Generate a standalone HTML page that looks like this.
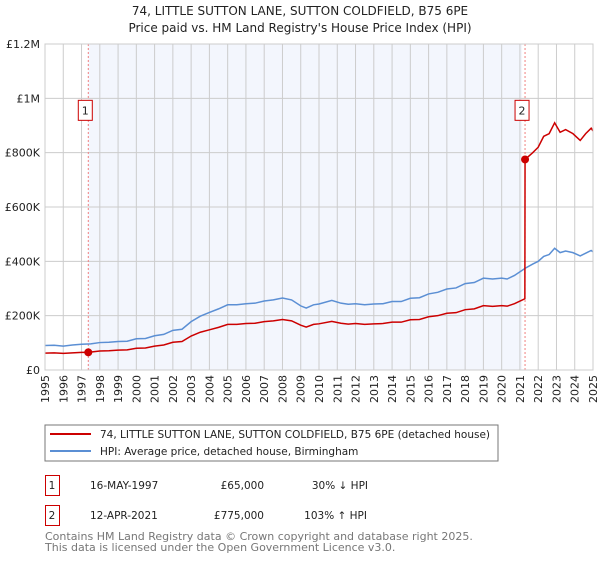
<!DOCTYPE html>
<html><head><meta charset="utf-8"><style>
body{margin:0;background:#fff;font-family:"DejaVu Sans","Liberation Sans",sans-serif;}
svg text{font-family:"DejaVu Sans","Liberation Sans",sans-serif;}
</style></head><body>
<svg id="c" width="600" height="560" viewBox="0 0 600 560" xmlns="http://www.w3.org/2000/svg">
<text x="300" y="15" text-anchor="middle" font-size="12" fill="#222">74, LITTLE SUTTON LANE, SUTTON COLDFIELD, B75 6PE</text>
<text x="300" y="32" text-anchor="middle" font-size="12" fill="#222">Price paid vs. HM Land Registry's House Price Index (HPI)</text>
<g id="plot"></g>
<rect x="45" y="425" width="453" height="36" fill="#fff" stroke="#777"/>
<line x1="50" y1="434" x2="91" y2="434" stroke="#cc0000" stroke-width="2"/>
<text x="100" y="438" font-size="10.5" fill="#222">74, LITTLE SUTTON LANE, SUTTON COLDFIELD, B75 6PE (detached house)</text>
<line x1="50" y1="451" x2="91" y2="451" stroke="#5b8fd4" stroke-width="2"/>
<text x="100" y="455" font-size="10.5" fill="#222">HPI: Average price, detached house, Birmingham</text>
<g>
<rect x="45.5" y="475.5" width="14" height="20" fill="#fff" stroke="#cc0000"/>
<text x="52" y="489" text-anchor="middle" font-size="10.5" fill="#222">1</text>
<text x="90" y="489" font-size="10.5" fill="#222">16-MAY-1997</text>
<text x="264" y="489" text-anchor="end" font-size="10.5" fill="#222">£65,000</text>
<text x="368" y="489" text-anchor="end" font-size="10.5" fill="#222">30% ↓ HPI</text>
</g>
<g>
<rect x="45.5" y="505.5" width="14" height="20" fill="#fff" stroke="#cc0000"/>
<text x="52" y="519" text-anchor="middle" font-size="10.5" fill="#222">2</text>
<text x="90" y="519" font-size="10.5" fill="#222">12-APR-2021</text>
<text x="264" y="519" text-anchor="end" font-size="10.5" fill="#222">£775,000</text>
<text x="367" y="519" text-anchor="end" font-size="10.5" fill="#222">103% ↑ HPI</text>
</g>
<text x="45" y="540" font-size="11" fill="#777">Contains HM Land Registry data © Crown copyright and database right 2025.</text>
<text x="45" y="551" font-size="11" fill="#777">This data is licensed under the Open Government Licence v3.0.</text>
</svg>
<script>
const yTicks=[0,200,400,600,800,1000,1200];
const yTickLabels=["£0","£200K","£400K","£600K","£800K","£1M","£1.2M"];
const years=[1995,1996,1997,1998,1999,2000,2001,2002,2003,2004,2005,2006,2007,2008,2009,2010,2011,2012,2013,2014,2015,2016,2017,2018,2019,2020,2021,2022,2023,2024,2025];
const saleDates=[1997.37,2021.28];
const salePrices=[65,775];
const saleLabels=["1","2"];
const hpiDates=[1995,1995.5,1996,1996.5,1997,1997.5,1998,1998.5,1999,1999.5,2000,2000.5,2001,2001.5,2002,2002.5,2003,2003.5,2004,2004.5,2005,2005.5,2006,2006.5,2007,2007.5,2008,2008.5,2009,2009.3,2009.7,2010,2010.7,2011.2,2011.6,2012,2012.5,2013,2013.5,2014,2014.5,2015,2015.5,2016,2016.5,2017,2017.5,2018,2018.5,2019,2019.5,2020,2020.3,2020.7,2021.3,2021.7,2022,2022.3,2022.6,2022.9,2023.2,2023.5,2023.9,2024.3,2024.6,2024.9,2025];
const hpiValues=[90,91,88,92,95,96,101,102,105,106,115,116,126,131,146,150,178,198,212,225,240,240,244,246,254,258,265,258,236,228,240,243,256,246,242,244,240,243,244,252,252,264,266,280,286,298,302,318,322,338,335,338,335,348,375,390,400,418,425,448,432,438,432,420,430,440,435];
const redDates=[1995,1995.5,1996,1996.5,1997,1997.37,1998,1998.5,1999,1999.5,2000,2000.5,2001,2001.5,2002,2002.5,2003,2003.5,2004,2004.5,2005,2005.5,2006,2006.5,2007,2007.5,2008,2008.5,2009,2009.3,2009.7,2010,2010.7,2011.2,2011.6,2012,2012.5,2013,2013.5,2014,2014.5,2015,2015.5,2016,2016.5,2017,2017.5,2018,2018.5,2019,2019.5,2020,2020.3,2020.7,2021.27,2021.28,2021.7,2022,2022.3,2022.6,2022.9,2023.2,2023.5,2023.9,2024.3,2024.6,2024.9,2025];
const redValues=[62,63,61,63,65,65,70,71,73,74,80,81,88,92,102,105,125,139,148,157,168,168,171,172,178,181,186,181,165,158,168,170,179,172,169,171,168,170,171,176,176,185,186,196,200,209,211,222,225,237,234,237,235,244,262,775,800,820,860,870,910,875,885,870,845,870,890,880];
const NS="http://www.w3.org/2000/svg";
const X0=45,X1=593,Y0=370,Y1=44;
const xs=d=>X0+(d-1995)/30*(X1-X0);
const ys=v=>Y0-v/1200*(Y0-Y1);
const plot=document.getElementById('plot');
function mk(tag,attrs){const e=document.createElementNS(NS,tag);for(const k in attrs)e.setAttribute(k,attrs[k]);plot.appendChild(e);return e;}
let e;
e=mk('rect',{x:xs(saleDates[0]),y:Y1,width:xs(saleDates[1])-xs(saleDates[0])-3,height:Y0-Y1,fill:'#f3f6fd'});


years.forEach(y=>{const g=mk('line',{x1:xs(y),x2:xs(y),y1:Y1,y2:Y0,stroke:'#ccc','stroke-width':1});


const t=mk('text',{x:0,y:0,'font-size':11,fill:'#222','text-anchor':'end',transform:`translate(${xs(y)+4},${Y0+5}) rotate(-90)`});t.textContent=y;

});
yTicks.forEach((v,i)=>{const g=mk('line',{x1:X0,x2:X1,y1:ys(v),y2:ys(v),stroke:'#ccc','stroke-width':1});


const t=mk('text',{x:40,y:ys(v)+4,'font-size':11,fill:'#222','text-anchor':'end'});t.textContent=yTickLabels[i];

});
saleDates.forEach((d,i)=>{const l=mk('line',{x1:xs(d),x2:xs(d),y1:Y1,y2:Y0,stroke:'#f08080','stroke-dasharray':'2,2'});


const r=mk('rect',{x:xs(d)-10,y:ys(1000)+2,width:14,height:20,fill:'#fff',stroke:'#cc0000'});


const t=mk('text',{x:xs(d)-3,y:ys(1000)+16,'font-size':11,fill:'#222','text-anchor':'middle'});t.textContent=saleLabels[i];

});
e=mk('polyline',{points:hpiDates.map((d,i)=>xs(d)+','+ys(hpiValues[i])).join(' '),fill:'none',stroke:'#5b8fd4','stroke-width':1.5});


e=mk('polyline',{points:redDates.map((d,i)=>xs(d)+','+ys(redValues[i])).join(' '),fill:'none',stroke:'#cc0000','stroke-width':1.5});


saleDates.forEach((d,i)=>{const c=mk('circle',{cx:xs(d),cy:ys(salePrices[i]),r:4,fill:'#cc0000'});

});
e=mk('rect',{x:X0,y:Y1,width:X1-X0,height:Y0-Y1,fill:'none',stroke:'#ccc'});


</script>
</body></html>
